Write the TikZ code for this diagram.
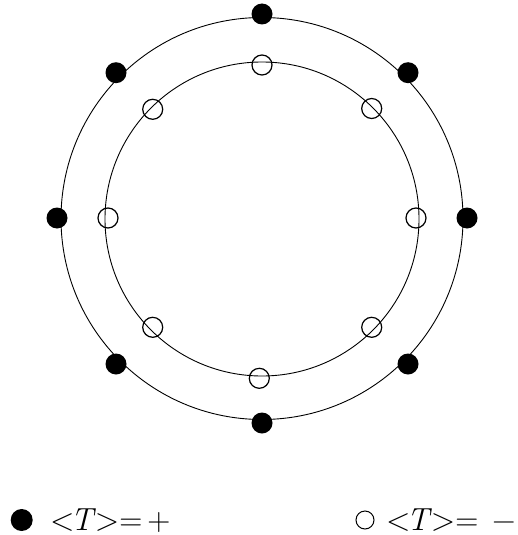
\documentclass[tikz,border=0pt]{standalone}
\begin{document}
\begin{tikzpicture}[x=1pt,y=-1pt,
  ring/.style={draw=black,line width=0.9pt},
  fdot/.style={circle,fill=black,draw=none,minimum size=21pt,inner sep=0pt},
  odot/.style={circle,fill=none,draw=black,line width=1.2pt,minimum size=20pt,inner sep=0pt},
  legtext/.style={anchor=base west,inner sep=0pt,font=\fontsize{32}{38}\selectfont}]
\useasboundingbox (0,0) rectangle (517,535);
\coordinate (c) at (262,218.5);
\draw[ring] (c) circle[radius=201pt];
\draw[ring] (262,219) circle[radius=157pt];
% filled dots (outer)
\node[fdot] (f1) at (262,14) {};
\node[fdot] (f2) at (408,72.7) {};
\node[fdot] (f3) at (467,218) {};
\node[fdot] (f4) at (408,364) {};
\node[fdot] (f5) at (262,423) {};
\node[fdot] (f6) at (116,364) {};
\node[fdot] (f7) at (57,218) {};
\node[fdot] (f8) at (116,72.7) {};
% open circles (inner)
\node[odot] (o1) at (262,65) {};
\node[odot] (o2) at (371.7,108.5) {};
\node[odot] (o3) at (416,218) {};
\node[odot] (o4) at (371.7,327.3) {};
\node[odot] (o5) at (259.3,378.3) {};
\node[odot] (o6) at (152.7,327.3) {};
\node[odot] (o7) at (108,218) {};
\node[odot] (o8) at (152.7,109.3) {};
% legend
\node[fdot,minimum size=22pt] (lf) at (21.7,520) {};
\node[legtext] (lt1) at (50,530) {<\kern-4pt\textit{T}\kern-1pt>=\kern5pt+};
\node[odot,line width=1pt,minimum size=18pt] (lo) at (365,520) {};
\node[legtext] (lt2) at (386,530) {<\kern-4pt\textit{T}\kern-1pt>=\kern14pt−};
\end{tikzpicture}
\end{document}
